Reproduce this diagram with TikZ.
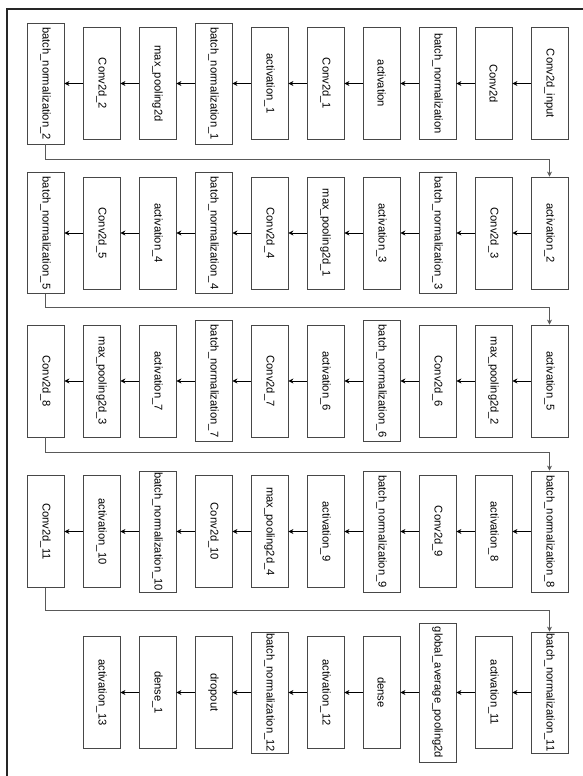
\documentclass[tikz,border=0pt]{standalone}
\usepackage{fontspec}
\setmainfont{Liberation Sans}
\usetikzlibrary{arrows.meta}
\newcommand\vlbl[1]{\rotatebox{-90}{#1}}
\begin{document}
\begin{tikzpicture}[x=1pt,y=1pt,
  layer/.style={draw=black!72, line width=0.8pt, fill=white, minimum width=37pt, minimum height=112pt, inner sep=0pt, font=\fontsize{11.2}{13}\selectfont},
  bnlayer/.style={layer, minimum height=121pt},
  widelayer/.style={layer, minimum height=139pt},
  flow/.style={draw=black, line width=0.8pt, -{Stealth[length=5pt,width=5pt]}},
  wrap/.style={draw=black!65, line width=0.7pt, -{Stealth[length=5pt,width=5pt]}}]
\useasboundingbox (0,0) rectangle (583,-776);
\draw[line width=2.2pt, black!85] (7,-776) -- (7,-9) -- (583,-9);

% Row 1
\node[layer]   (r1-10) at (549.5,-83.5) {\vlbl{Conv2d\_input}};
\node[layer]   (r1-9)  at (493.5,-83.5) {\vlbl{Conv2d}};
\node[layer]   (r1-8)  at (437.5,-83.5) {\vlbl{batch\_normalization}};
\node[layer]   (r1-7)  at (381.5,-83.5) {\vlbl{activation}};
\node[layer]   (r1-6)  at (325.5,-83.5) {\vlbl{Conv2d\_1}};
\node[layer]   (r1-5)  at (269.5,-83.5) {\vlbl{activation\_1}};
\node[bnlayer] (r1-4)  at (213.5,-83.5) {\vlbl{batch\_normalization\_1}};
\node[layer]   (r1-3)  at (157.5,-83.5) {\vlbl{max\_pooling2d}};
\node[layer]   (r1-2)  at (101.5,-83.5) {\vlbl{Conv2d\_2}};
\node[bnlayer] (r1-1)  at (45.5,-83.5)  {\vlbl{batch\_normalization\_2}};

% Row 2
\node[layer]   (r2-10) at (549.5,-233) {\vlbl{activation\_2}};
\node[layer]   (r2-9)  at (493.5,-233) {\vlbl{Conv2d\_3}};
\node[bnlayer] (r2-8)  at (437.5,-233) {\vlbl{batch\_normalization\_3}};
\node[layer]   (r2-7)  at (381.5,-233) {\vlbl{activation\_3}};
\node[layer]   (r2-6)  at (325.5,-233) {\vlbl{max\_pooling2d\_1}};
\node[layer]   (r2-5)  at (269.5,-233) {\vlbl{Conv2d\_4}};
\node[bnlayer] (r2-4)  at (213.5,-233) {\vlbl{batch\_normalization\_4}};
\node[layer]   (r2-3)  at (157.5,-233) {\vlbl{activation\_4}};
\node[layer]   (r2-2)  at (101.5,-233) {\vlbl{Conv2d\_5}};
\node[bnlayer] (r2-1)  at (45.5,-233)  {\vlbl{batch\_normalization\_5}};

% Row 3
\node[layer]   (r3-10) at (549.5,-381) {\vlbl{activation\_5}};
\node[layer]   (r3-9)  at (493.5,-381) {\vlbl{max\_pooling2d\_2}};
\node[layer]   (r3-8)  at (437.5,-381) {\vlbl{Conv2d\_6}};
\node[bnlayer] (r3-7)  at (381.5,-381) {\vlbl{batch\_normalization\_6}};
\node[layer]   (r3-6)  at (325.5,-381) {\vlbl{activation\_6}};
\node[layer]   (r3-5)  at (269.5,-381) {\vlbl{Conv2d\_7}};
\node[bnlayer] (r3-4)  at (213.5,-381) {\vlbl{batch\_normalization\_7}};
\node[layer]   (r3-3)  at (157.5,-381) {\vlbl{activation\_7}};
\node[layer]   (r3-2)  at (101.5,-381) {\vlbl{max\_pooling2d\_3}};
\node[layer]   (r3-1)  at (45.5,-381)  {\vlbl{Conv2d\_8}};

% Row 4
\node[bnlayer] (r4-10) at (549.5,-531.5) {\vlbl{batch\_normalization\_8}};
\node[layer]   (r4-9)  at (493.5,-531.5) {\vlbl{activation\_8}};
\node[layer]   (r4-8)  at (437.5,-531.5) {\vlbl{Conv2d\_9}};
\node[bnlayer] (r4-7)  at (381.5,-531.5) {\vlbl{batch\_normalization\_9}};
\node[layer]   (r4-6)  at (325.5,-531.5) {\vlbl{activation\_9}};
\node[layer]   (r4-5)  at (269.5,-531.5) {\vlbl{max\_pooling2d\_4}};
\node[layer]   (r4-4)  at (213.5,-531.5) {\vlbl{Conv2d\_10}};
\node[bnlayer] (r4-3)  at (157.5,-531.5) {\vlbl{batch\_normalization\_10}};
\node[layer]   (r4-2)  at (101.5,-531.5) {\vlbl{activation\_10}};
\node[layer]   (r4-1)  at (45.5,-531.5)  {\vlbl{Conv2d\_11}};

% Row 5
\node[bnlayer]   (r5-10) at (549.5,-692.5) {\vlbl{batch\_normalization\_11}};
\node[layer]     (r5-9)  at (493.5,-692.5) {\vlbl{activation\_11}};
\node[widelayer] (r5-8)  at (437.5,-692.5) {\vlbl{global\_average\_pooling2d}};
\node[layer]     (r5-7)  at (381.5,-692.5) {\vlbl{dense}};
\node[layer]     (r5-6)  at (325.5,-692.5) {\vlbl{activation\_12}};
\node[bnlayer]   (r5-5)  at (269.5,-692.5) {\vlbl{batch\_normalization\_12}};
\node[layer]     (r5-4)  at (213.5,-692.5) {\vlbl{dropout}};
\node[layer]     (r5-3)  at (157.5,-692.5) {\vlbl{dense\_1}};
\node[layer]     (r5-2)  at (101.5,-692.5) {\vlbl{activation\_13}};

% arrows within rows
\foreach \r in {1,2,3,4}{
  \foreach \c in {2,...,10}{
    \pgfmathtruncatemacro\p{\c-1}
    \draw[flow] (r\r-\c.west) -- (r\r-\p.east);
  }
}
\foreach \c in {3,...,10}{
  \pgfmathtruncatemacro\p{\c-1}
  \draw[flow] (r5-\c.west) -- (r5-\p.east);
}

% row-to-row connectors
\draw[wrap] (r1-1.south) -- ++(0,-15) -| (r2-10.north);
\draw[wrap] (r2-1.south) -- ++(0,-13.5) -| (r3-10.north);
\draw[wrap] (r3-1.south) -- ++(0,-15) -| (r4-10.north);
\draw[wrap] (r4-1.south) -- ++(0,-22) -| (r5-10.north);
\end{tikzpicture}
\end{document}
